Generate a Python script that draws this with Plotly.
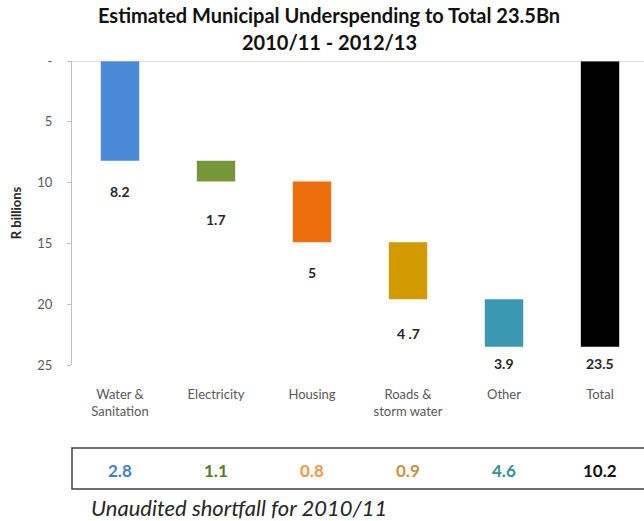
import plotly.graph_objects as go

# Waterfall of municipal underspending, R billions
categories = ["Water &<br>Sanitation", "Electricity", "Housing", "Roads &<br>storm water", "Other", "Total"]
amounts = [8.2, 1.7, 5.0, 4.7, 3.9, 23.5]
value_labels = ["8.2", "1.7", "5", "4 .7", "3.9", "23.5"]
bar_colors = ["#4A88D8", "#77963A", "#EE6D0C", "#D29B02", "#3A98B2", "#000000"]

# Unaudited shortfall for 2010/11, same category order
shortfall = [2.8, 1.1, 0.8, 0.9, 4.6, 10.2]
shortfall_colors = ["#3D82C6", "#557A2A", "#F0964E", "#C79444", "#2E9292", "#111111"]

y_ticks = [0, 5, 10, 15, 20, 25]
y_tick_text = ["-", "5", "10", "15", "20", "25"]

# floating bases: each category starts where the previous one ended, total starts at 0
bases = []
running = 0.0
for amt in amounts[:-1]:
    bases.append(running)
    running += amt
bases.append(0.0)

xs = list(range(len(categories)))
FONT = "Lato"

fig = go.Figure()
fig.add_trace(go.Bar(
    x=xs, y=amounts, base=bases,
    marker=dict(color=bar_colors, line=dict(width=0)),
    width=0.4, hoverinfo="skip", showlegend=False,
))

# value labels placed below the end of each bar (pixel offsets)
label_gap = [31, 38, 30, 34, 17, 17]
for i, (b, a, txt) in enumerate(zip(bases, amounts, value_labels)):
    fig.add_annotation(
        x=xs[i], y=b + a, xref="x", yref="y", text=f"<b>{txt}</b>",
        showarrow=False, yshift=-label_gap[i], yanchor="middle",
        font=dict(family=FONT, size=14, color="#262626"),
    )

# top baseline at zero
fig.add_shape(type="line", xref="paper", yref="y", x0=0, x1=1, y0=0, y1=0,
              line=dict(color="#BFBFBF", width=1))

# shortfall box
fig.add_shape(type="rect", xref="paper", yref="paper", ysizemode="pixel", yanchor=0,
              x0=0, x1=1.02, y0=-83, y1=-124,
              line=dict(color="#404040", width=1.5), fillcolor="rgba(0,0,0,0)")
for i, (v, c) in enumerate(zip(shortfall, shortfall_colors)):
    fig.add_annotation(
        x=xs[i], y=0, xref="x", yref="paper", text=f"<b>{v}</b>",
        showarrow=False, yshift=-105, yanchor="middle",
        font=dict(family=FONT, size=17, color=c),
    )
fig.add_annotation(
    x=(89 - 72) / 572, y=0, xref="paper", yref="paper",
    text="Unaudited shortfall for 2010/11", showarrow=False,
    xanchor="left", yanchor="middle", yshift=-142,
    font=dict(family=FONT, size=22, color="#262626", style="italic"),
)

# title lines
fig.add_annotation(
    x=(329 - 72) / 572, y=1, xref="paper", yref="paper",
    text="<b>Estimated Municipal Underspending to Total 23.5Bn</b>",
    showarrow=False, yshift=46, yanchor="middle",
    font=dict(family=FONT, size=20, color="#111111"),
)
fig.add_annotation(
    x=(329 - 72) / 572, y=1, xref="paper", yref="paper",
    text="<b>2010/11 - 2012/13</b>",
    showarrow=False, yshift=19, yanchor="middle",
    font=dict(family=FONT, size=20, color="#111111"),
)

fig.update_layout(
    width=644, height=521,
    margin=dict(l=72, r=0, t=61, b=156),
    paper_bgcolor="white", plot_bgcolor="white",
    font=dict(family=FONT, color="#595959"),
    bargap=0.6,
    xaxis=dict(
        range=[-0.5, 5.458], tickvals=xs, ticktext=categories,
        ticks="outside", ticklen=17, tickcolor="rgba(0,0,0,0)",
        showline=False, showgrid=False, zeroline=False,
        tickfont=dict(family=FONT, size=13, color="#595959"),
    ),
    yaxis=dict(
        range=[25, 0], tickvals=y_ticks, ticktext=y_tick_text,
        ticks="outside", ticklen=4, tickcolor="#BFBFBF",
        showline=True, linecolor="#BFBFBF", linewidth=1,
        showgrid=False, zeroline=False, ticklabelstandoff=12,
        tickfont=dict(family=FONT, size=13, color="#595959"),
        title=dict(text="<b>R billions</b>", standoff=12,
                   font=dict(family=FONT, size=13, color="#262626")),
    ),
)

fig.write_html("out.html")
